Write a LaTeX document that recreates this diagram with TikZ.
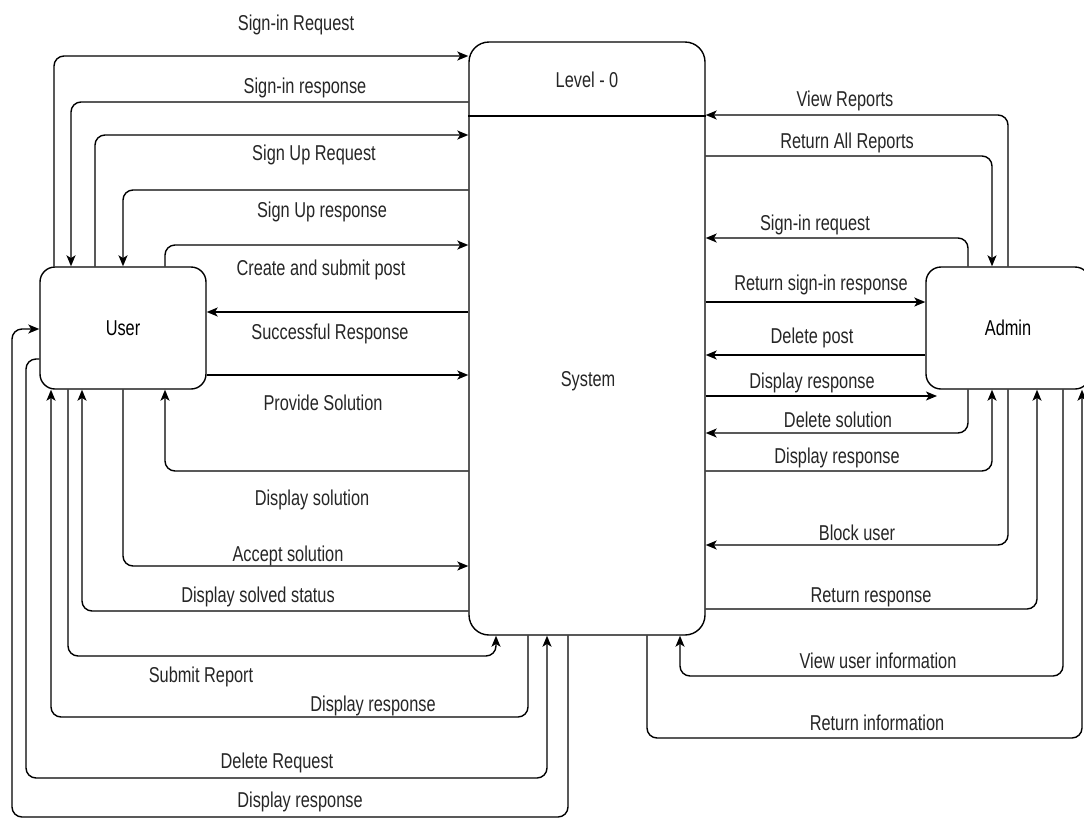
\documentclass[tikz,border=0pt]{standalone}
\usepackage{fontspec}
\setmainfont[FakeStretch=0.76]{Liberation Sans}
\usetikzlibrary{arrows.meta}
\newcommand\lblfont{\fontsize{21.5}{25}\selectfont}
\begin{document}
\begin{tikzpicture}[x=1pt,y=-1pt,
  box/.style={draw, line width=1.4pt, inner sep=0pt, font=\lblfont},
  flow/.style={draw, line width=1.4pt, rounded corners=10pt,
    -{Stealth[length=11pt,width=9pt,inset=2.8pt]}},
  lbl/.style={anchor=base, inner sep=0pt, font=\lblfont, text=black!85}]
\clip (0,0) rectangle (1084,820);
\fill[white] (0,0) rectangle (1084,820);

% processes and entities
\node[box, rounded corners=20pt, minimum width=236pt, minimum height=593pt] (sys) at (587,338.5) {};
\node[box, rounded corners=15pt, minimum width=166pt, minimum height=122pt] (user) at (123,328) {User};
\node[box, rounded corners=15pt, minimum width=164pt, minimum height=122pt] (admin) at (1008,328) {Admin};
\coordinate (lv) at (0,116);
\draw[line width=1.4pt] (sys.west |- lv) -- (sys.east |- lv);
\node[lbl] (lvl) at (587,87) {Level - 0};
\node[lbl] (systxt) at (588,386) {System};

% user <-> system, above and beside the user box
\coordinate (a1) at (54,56);
\coordinate (a2) at (71,102);
\coordinate (a3) at (95,135);
\coordinate (a4) at (123,190);
\coordinate (a5) at (165,245);
\coordinate (a6) at (0,312);
\coordinate (a7) at (0,375);
\draw[flow] (a1 |- user.north) -- (a1) -- (a1 -| sys.west);
\draw[flow] (a2 -| sys.west) -- (a2) -- (a2 |- user.north);
\draw[flow] (a3 |- user.north) -- (a3) -- (a3 -| sys.west);
\draw[flow] (a4 -| sys.west) -- (a4) -- (a4 |- user.north);
\draw[flow] (a5 |- user.north) -- (a5) -- (a5 -| sys.west);
\draw[flow] (a6 -| sys.west) -- (a6 -| user.east);
\draw[flow] (a7 -| user.east) -- (a7 -| sys.west);

% user <-> system, below the user box
\coordinate (a8) at (165,471);
\coordinate (a9) at (123,566);
\coordinate (a10) at (82,611);
\draw[flow] (a8 -| sys.west) -- (a8) -- (a8 |- user.south);
\draw[flow] (a9 |- user.south) -- (a9) -- (a9 -| sys.west);
\draw[flow] (a10 -| sys.west) -- (a10) -- (a10 |- user.south);

\coordinate (b1) at (68,656);
\coordinate (b2) at (496,656);
\draw[flow] (b1 |- user.south) -- (b1) -- (b2) -- (b2 |- sys.south);
\coordinate (b3) at (528,717);
\coordinate (b4) at (51,717);
\draw[flow] (b3 |- sys.south) -- (b3) -- (b4) -- (b4 |- user.south);
\coordinate (b5) at (26,359);
\coordinate (b6) at (26,778);
\coordinate (b7) at (547,778);
\draw[flow] (b5 -| user.west) -- (b5) -- (b6) -- (b7) -- (b7 |- sys.south);
\coordinate (b8) at (568,817);
\coordinate (b9) at (12,817);
\coordinate (b10) at (12,329);
\draw[flow] (b8 |- sys.south) -- (b8) -- (b9) -- (b10) -- (b10 -| user.west);

% admin <-> system
\coordinate (r1) at (1008,115);
\coordinate (r2) at (992,156);
\coordinate (r3) at (968,238);
\coordinate (r4) at (0,302);
\coordinate (r5) at (0,355);
\coordinate (r6) at (937,396);
\draw[flow] (r1 |- admin.north) -- (r1) -- (r1 -| sys.east);
\draw[flow] (r2 -| sys.east) -- (r2) -- (r2 |- admin.north);
\draw[flow] (r3 |- admin.north) -- (r3) -- (r3 -| sys.east);
\draw[flow] (r4 -| sys.east) -- (r4 -| admin.west);
\draw[flow] (r5 -| admin.west) -- (r5 -| sys.east);
\draw[flow] (r6 -| sys.east) -- (r6);

\coordinate (r7) at (968,433);
\coordinate (r8) at (992,471);
\coordinate (r9) at (1008,545);
\coordinate (r10) at (1037,609);
\draw[flow] (r7 |- admin.south) -- (r7) -- (r7 -| sys.east);
\draw[flow] (r8 -| sys.east) -- (r8) -- (r8 |- admin.south);
\draw[flow] (r9 |- admin.south) -- (r9) -- (r9 -| sys.east);
\draw[flow] (r10 -| sys.east) -- (r10) -- (r10 |- admin.south);
\coordinate (r11) at (1063,676);
\coordinate (r12) at (680,676);
\draw[flow] (r11 |- admin.south) -- (r11) -- (r12) -- (r12 |- sys.south);
\coordinate (r13) at (647,738);
\coordinate (r14) at (1082,738);
\draw[flow] (r13 |- sys.south) -- (r13) -- (r14) -- (r14 |- admin.south);

% flow labels, user side
\node[lbl] (l1) at (296,30) {Sign-in Request};
\node[lbl] (l2) at (305,93) {Sign-in response};
\node[lbl] (l3) at (314,160) {Sign Up Request};
\node[lbl] (l4) at (322,217) {Sign Up response};
\node[lbl] (l5) at (321,275) {Create and submit post};
\node[lbl] (l6) at (330,339) {Successful Response};
\node[lbl] (l7) at (323,410) {Provide Solution};
\node[lbl] (l8) at (312,505) {Display solution};
\node[lbl] (l9) at (288,561) {Accept solution};
\node[lbl] (l10) at (258,602) {Display solved status};
\node[lbl] (l11) at (201,682) {Submit Report};
\node[lbl] (l12) at (373,711) {Display response};
\node[lbl] (l13) at (277,768) {Delete Request};
\node[lbl] (l14) at (300,807) {Display response};

% flow labels, admin side
\node[lbl] (m1) at (845,106) {View Reports};
\node[lbl] (m2) at (847,148) {Return All Reports};
\node[lbl] (m3) at (815,230) {Sign-in request};
\node[lbl] (m4) at (821,290) {Return sign-in response};
\node[lbl] (m5) at (812,343) {Delete post};
\node[lbl] (m6) at (812,388) {Display response};
\node[lbl] (m7) at (838,427) {Delete solution};
\node[lbl] (m8) at (837,463) {Display response};
\node[lbl] (m9) at (857,540) {Block user};
\node[lbl] (m10) at (871,602) {Return response};
\node[lbl] (m11) at (878,668) {View user information};
\node[lbl] (m12) at (877,730) {Return information};
\end{tikzpicture}
\end{document}
